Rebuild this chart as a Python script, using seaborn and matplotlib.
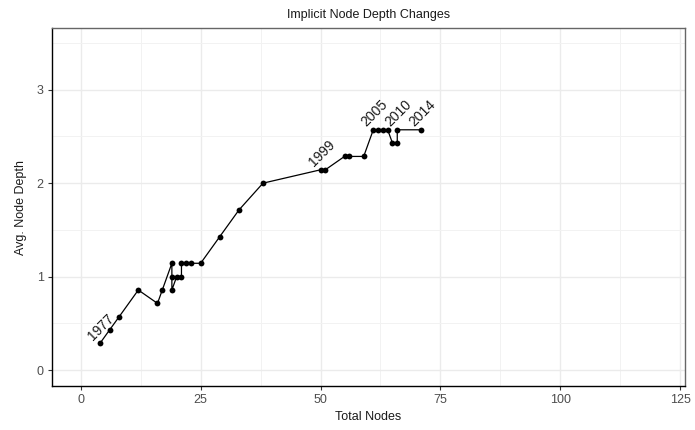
import matplotlib
matplotlib.use("Agg")
import matplotlib.pyplot as plt
import seaborn as sns
import pandas as pd
from matplotlib.ticker import MultipleLocator

# Cumulative node count and average implicit depth, in path order
total_nodes = [4, 6, 8, 12, 16, 17, 19, 19, 19, 20, 21, 21, 22, 23, 25, 29, 33, 38,
               50, 51, 55, 56, 59, 61, 62, 63, 64, 65, 66, 66, 71]
avg_depth = [0.286, 0.429, 0.571, 0.857, 0.714, 0.857, 1.143, 1.0, 0.857, 1.0, 1.0,
             1.143, 1.143, 1.143, 1.143, 1.429, 1.714, 2.0,
             2.143, 2.143, 2.286, 2.286, 2.286, 2.571, 2.571, 2.571, 2.571,
             2.429, 2.429, 2.571, 2.571]

# Year annotations attached to selected points (index into the series above)
year_labels = ["1977", "1999", "2005", "2010", "2014"]
year_points = [0, 18, 23, 29, 30]

x_ticks = [0, 25, 50, 75, 100, 125]
y_ticks = [0, 1, 2, 3]

df = pd.DataFrame({"Total Nodes": total_nodes, "Avg. Node Depth": avg_depth})

sns.set_theme(style="white")
plt.rcParams["font.family"] = ["Liberation Sans", "DejaVu Sans"]

fig = plt.figure(figsize=(6.95, 4.30), dpi=100)
ax = fig.add_axes([0.0748, 0.1023, 0.9108, 0.8326])

sns.lineplot(data=df, x="Total Nodes", y="Avg. Node Depth", estimator=None,
             sort=False, color="black", linewidth=0.9, marker="o",
             markersize=4.2, markeredgewidth=0, ax=ax, zorder=3)

for lab, i in zip(year_labels, year_points):
    ax.annotate(lab, (total_nodes[i], avg_depth[i]), xytext=(1.5, 16.5),
                textcoords="offset pixels", rotation=45, ha="center",
                va="center", fontsize=10, color="#1a1a1a", zorder=4)

ax.set_xlim(-6, 126)
ax.set_ylim(-0.17, 3.66)
ax.set_xticks(x_ticks)
ax.set_yticks(y_ticks)
ax.xaxis.set_minor_locator(MultipleLocator(12.5))
ax.yaxis.set_minor_locator(MultipleLocator(0.5))

ax.grid(which="major", color="#EBEBEB", linewidth=1.0, zorder=0)
ax.grid(which="minor", color="#F2F2F2", linewidth=0.7, zorder=0)
ax.set_axisbelow(True)

for side in ["top", "right"]:
    ax.spines[side].set_color("#666666")
    ax.spines[side].set_linewidth(1.0)
for side in ["left", "bottom"]:
    ax.spines[side].set_color("black")
    ax.spines[side].set_linewidth(1.0)

ax.tick_params(which="major", length=3, width=0.8, color="#333333",
               labelsize=9, labelcolor="#4D4D4D", pad=3,
               bottom=True, left=True)
ax.tick_params(which="minor", length=0)

ax.set_xlabel("Total Nodes", fontsize=9, color="#1a1a1a", labelpad=3)
ax.set_ylabel("Avg. Node Depth", fontsize=9, color="#1a1a1a", labelpad=7)
ax.set_title("Implicit Node Depth Changes", fontsize=9, color="#1a1a1a", pad=7)

fig.savefig("out.png", dpi=100)
